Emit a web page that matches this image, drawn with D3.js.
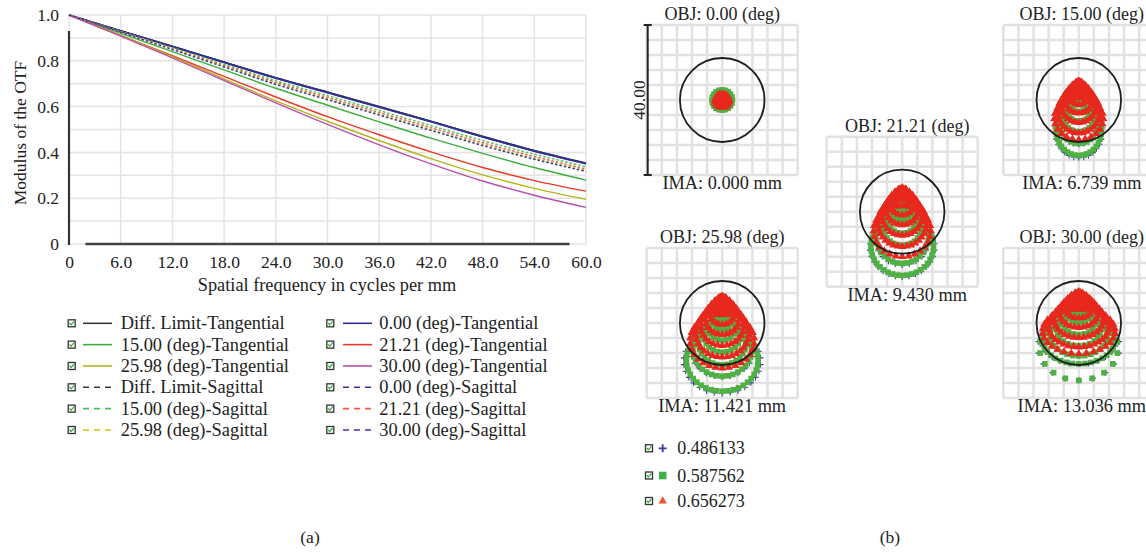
<!DOCTYPE html>
<html>
<head>
<meta charset="utf-8">
<script src="https://cdn.jsdelivr.net/npm/d3@7"></script>
<style>
html, body { margin: 0; padding: 0; background: #fff; }
svg { display: block; font-family: "Liberation Serif", "DejaVu Serif", serif; }
</style>
</head>
<body>
<svg id="chart" width="1146" height="552"></svg>
<script>
// ---- MTF data ----
const freqs = [0, 6, 12, 18, 24, 30, 36, 42, 48, 54, 60];
const xTicks = [0, 6, 12, 18, 24, 30, 36, 42, 48, 54, 60];
const yTicks = [0, 0.2, 0.4, 0.6, 0.8, 1.0];
const yGrid = [0, 0.1, 0.2, 0.3, 0.4, 0.5, 0.6, 0.7, 0.8, 0.9, 1.0];

const diffT  = [1, 0.931, 0.863, 0.794, 0.726, 0.663, 0.600, 0.536, 0.470, 0.408, 0.353];
const diffS  = [1, 0.931, 0.863, 0.794, 0.726, 0.663, 0.600, 0.536, 0.470, 0.408, 0.353];
const f00T   = [1, 0.930, 0.862, 0.793, 0.724, 0.661, 0.598, 0.534, 0.468, 0.406, 0.351];
const f00S   = [1, 0.930, 0.862, 0.793, 0.724, 0.661, 0.598, 0.534, 0.468, 0.406, 0.351];
const f15T   = [1, 0.920, 0.840, 0.760, 0.680, 0.606, 0.533, 0.462, 0.396, 0.334, 0.279];
const f15S   = [1, 0.928, 0.857, 0.785, 0.713, 0.648, 0.583, 0.517, 0.452, 0.392, 0.338];
const f21T   = [1, 0.911, 0.822, 0.732, 0.642, 0.556, 0.477, 0.402, 0.334, 0.277, 0.231];
const f21S   = [1, 0.927, 0.854, 0.780, 0.706, 0.640, 0.574, 0.508, 0.442, 0.382, 0.328];
const f26T   = [1, 0.910, 0.818, 0.721, 0.625, 0.536, 0.452, 0.373, 0.302, 0.243, 0.195];
const f26S   = [1, 0.926, 0.851, 0.776, 0.700, 0.633, 0.567, 0.500, 0.434, 0.374, 0.321];
const f30T   = [1, 0.908, 0.813, 0.714, 0.616, 0.522, 0.433, 0.350, 0.275, 0.213, 0.160];
const f30S   = [1, 0.925, 0.849, 0.773, 0.697, 0.630, 0.563, 0.496, 0.430, 0.370, 0.317];

const legendNames = [
  'Diff. Limit-Tangential', '15.00 (deg)-Tangential', '25.98 (deg)-Tangential',
  'Diff. Limit-Sagittal', '15.00 (deg)-Sagittal', '25.98 (deg)-Sagittal',
  '0.00 (deg)-Tangential', '21.21 (deg)-Tangential', '30.00 (deg)-Tangential',
  '0.00 (deg)-Sagittal', '21.21 (deg)-Sagittal', '30.00 (deg)-Sagittal'
];
const legendValues = [diffT, f15T, f26T, diffS, f15S, f26S, f00T, f21T, f30T, f00S, f21S, f30S];
const legendColors = ['#3a3a3a', '#3cae3c', '#b4b51e', '#3a3a3a', '#4cbf5a', '#c2c21a',
                      '#2c2c8c', '#ea3a26', '#b84fae', '#3434a8', '#ee5a42', '#3a36a8'];
const legendDashed = [false, false, false, true, true, true, false, false, false, true, true, true];

// ---- spot diagram data ----
const fieldLabels = ['0.00', '15.00', '21.21', '25.98', '30.00'];
const imaLabels = ['0.000', '6.739', '9.430', '11.421', '13.036'];
const waveLabels = ['0.486133', '0.587562', '0.656273'];
const scaleLabel = '40.00';
// rings per field: [centerY, radiusX, radiusY, points] in micrometres
const blueRings = [
  [[0, 1.2, 1.2, 6], [0, 2.2, 2.2, 12]],
  [[-6, 5.4, 5.8, 26], [-8.2, 6.3, 7.2, 30]],
  [[-6.6, 7.3, 7.6, 24], [-9.4, 8.6, 8, 30]],
  [[-7, 8.3, 7.4, 24], [-10.2, 10.2, 8.6, 30]],
  [[-4.4, 10, 6.6, 24], [-6.5, 10.8, 8.8, 18]]
];
const greenRings = [
  [[0, 0, 0, 1], [0, 0.8, 0.8, 6], [0, 1.6, 1.6, 12], [0, 2.4, 2.4, 18], [0, 2.7, 2.7, 20]],
  [[1.5, 0.6, 0.6, 6], [0.4, 1.5, 1.4, 10], [-0.9, 2.4, 2.3, 14], [-2.4, 3.3, 3.3, 20],
   [-4.1, 4.2, 4.4, 26], [-6, 5.1, 5.6, 30], [-8, 6, 6.8, 36]],
  [[3, 0.8, 0.8, 6], [1.6, 1.8, 1.8, 12], [0, 2.9, 2.9, 16], [-1.8, 4, 4, 22],
   [-3.8, 5.2, 5.2, 28], [-6.4, 7, 7.4, 34], [-9.2, 8.3, 7.8, 40]],
  [[2.2, 1.2, 1.2, 6], [0.6, 2.3, 2.2, 12], [-1.2, 3.6, 3.4, 18], [-3.2, 4.9, 4.6, 24],
   [-5.2, 6.3, 6, 30], [-7, 7.8, 7.2, 34], [-10, 9.5, 8.2, 40]],
  [[4, 1.4, 1.2, 6], [2.2, 2.8, 2.2, 12], [0.2, 4.3, 3.3, 18], [-1.8, 5.8, 4.3, 24],
   [-3.3, 7.6, 5.5, 30], [-4.5, 9.6, 6.4, 36], [-6.5, 10.4, 8.8, 18]]
];
const redRings = [
  [[0.4, 0, 0, 1], [0.4, 0.6, 0.6, 6], [0.1, 1.2, 1.2, 12], [-0.2, 1.9, 1.8, 18]],
  [[4.6, 0.4, 0.4, 6], [3.8, 1.2, 1.1, 10], [2.8, 2, 1.9, 14], [1.6, 2.9, 2.8, 18],
   [0.2, 3.8, 3.7, 24], [-1.4, 4.7, 4.6, 28], [-3.2, 5.6, 5.6, 32], [-5, 6.5, 5.6, 24]],
  [[5.8, 0.5, 0.5, 6], [4.9, 1.4, 1.3, 10], [3.8, 2.4, 2.3, 14], [2.4, 3.4, 3.3, 20],
   [0.8, 4.4, 4.3, 26], [-1, 5.4, 5.3, 30], [-3, 6.5, 6.3, 34], [-5.2, 7.6, 6.8, 28]],
  [[6.6, 0.5, 0.5, 6], [5.7, 1.4, 1.3, 10], [4.5, 2.4, 2.3, 14], [3, 3.5, 3.4, 20],
   [1.3, 4.6, 4.4, 26], [-0.6, 5.8, 5.4, 30], [-2.7, 7.1, 6.4, 34], [-4.8, 8.5, 7.2, 30]],
  [[7.8, 0.5, 0.5, 6], [6.9, 1.5, 1.3, 10], [5.8, 2.7, 2.2, 16], [4.4, 3.9, 3.1, 22],
   [2.8, 5.2, 4, 28], [1, 6.6, 4.9, 32], [-0.8, 8.1, 5.6, 36], [-2.2, 9.6, 6, 30]]
];
const airyRadius = 11.2;

const svg = d3.select('#chart');

// ---------- (a) MTF plot ----------
const x = d3.scaleLinear().domain([0, 60]).range([69, 586]);
const y = d3.scaleLinear().domain([0, 1]).range([244, 15]);

const grid = svg.append('g').attr('stroke', '#e4e4e4').attr('stroke-width', 1.5);
grid.selectAll('.vg').data(xTicks).enter().append('line')
  .attr('x1', d => x(d)).attr('x2', d => x(d))
  .attr('y1', y(0)).attr('y2', y(1));
grid.selectAll('.hg').data(yGrid).enter().append('line')
  .attr('x1', x(0)).attr('x2', x(60))
  .attr('y1', d => y(d)).attr('y2', d => y(d));

// axis lines (dark parts like the original)
svg.append('line').attr('x1', x(0)).attr('x2', x(0)).attr('y1', y(0.93)).attr('y2', y(0) + 1)
  .attr('stroke', '#333').attr('stroke-width', 2.2);
svg.append('line').attr('x1', x(1.9)).attr('x2', x(58.1)).attr('y1', y(0)).attr('y2', y(0))
  .attr('stroke', '#444').attr('stroke-width', 2.5);

const xAxis = svg.append('g')
  .attr('transform', `translate(0,${y(0)})`)
  .call(d3.axisBottom(x).tickValues(xTicks).tickSize(0).tickPadding(12)
    .tickFormat(d => d === 0 ? '0' : d.toFixed(1)));
const yAxis = svg.append('g')
  .attr('transform', `translate(${x(0)},0)`)
  .call(d3.axisLeft(y).tickValues(yTicks).tickSize(0).tickPadding(10)
    .tickFormat(d => d === 0 ? '0' : d.toFixed(1)));
[xAxis, yAxis].forEach(a => {
  a.select('.domain').remove();
  a.selectAll('text').style('font-family', '"Liberation Serif", serif')
    .style('font-size', '17.5px').attr('fill', '#222');
});

svg.append('text').attr('x', 327).attr('y', 291).attr('text-anchor', 'middle')
  .style('font-size', '18.3px').attr('fill', '#222')
  .text('Spatial frequency in cycles per mm');
svg.append('text').attr('transform', 'translate(26,133) rotate(-90)').attr('text-anchor', 'middle')
  .style('font-size', '17.5px').attr('fill', '#222')
  .text('Modulus of the OTF');

// curves
const line = d3.line()
  .x((d, i) => x(freqs[i]))
  .y(d => y(d))
  .curve(d3.curveMonotoneX);
const drawOrder = [0, 3, 6, 9, 1, 4, 7, 10, 2, 5, 8, 11];
svg.append('g').selectAll('path')
  .data(drawOrder)
  .enter()
  .append('path')
  .attr('d', k => line(legendValues[k]))
  .attr('fill', 'none')
  .attr('stroke', k => legendColors[k])
  .attr('stroke-width', k => legendDashed[k] ? 1.4 : (k === 0 || k === 6 ? 1.8 : 1.4))
  .attr('stroke-dasharray', k => legendDashed[k] ? '2.5,2' : null);

// legend
function checkbox(parent, cx, cy) {
  parent.append('rect').attr('x', cx - 3.5).attr('y', cy - 3.5).attr('width', 7).attr('height', 7)
    .attr('fill', '#fff').attr('stroke', '#333').attr('stroke-width', 1.3);
  parent.append('path').attr('d', `M${cx - 2.2},${cy - 0.3}L${cx - 0.6},${cy + 1.5}L${cx + 2.4},${cy - 2}`)
    .attr('fill', 'none').attr('stroke', '#3cae3c').attr('stroke-width', 1.3);
}
const leg = svg.append('g');
legendNames.forEach((name, i) => {
  const col = Math.floor(i / 6), row = i % 6;
  const cy = 323.3 + row * 21.34;
  const bx = col === 0 ? 71.7 : 330.3;
  const lx0 = col === 0 ? 83 : 343;
  const tx = col === 0 ? 120.7 : 379.3;
  checkbox(leg, bx, cy);
  leg.append('line').attr('x1', lx0).attr('x2', lx0 + 29).attr('y1', cy).attr('y2', cy)
    .attr('stroke', legendColors[i]).attr('stroke-width', 1.6)
    .attr('stroke-dasharray', legendDashed[i] ? '6,5' : null);
  leg.append('text').attr('x', tx).attr('y', cy + 6).style('font-size', '18.4px').attr('fill', '#222')
    .text(name);
});

svg.append('text').attr('x', 310).attr('y', 543).attr('text-anchor', 'middle')
  .style('font-size', '17.5px').attr('fill', '#222').text('(a)');
svg.append('text').attr('x', 890).attr('y', 543).attr('text-anchor', 'middle')
  .style('font-size', '17.5px').attr('fill', '#222').text('(b)');

// ---------- (b) spot diagrams ----------
const panels = [
  { left: 646.7, top: 25, dx: 0 },
  { left: 1003.3, top: 25, dx: 3 },
  { left: 826.7, top: 136.7, dx: 5 },
  { left: 646.7, top: 248, dx: 0 },
  { left: 1003.3, top: 248, dx: 3 }
];
const boxW = 151, boxH = 150;
const redColor = '#e8281e', greenColor = '#4fb043', blueColor = '#3a3aa6';
const tri = d3.symbol().type(d3.symbolTriangle).size(30);
const sq = d3.symbol().type(d3.symbolSquare).size(32);

function ringPoints(rings) {
  const pts = [];
  rings.forEach(([cy, rx, ry, n]) => {
    for (let i = 0; i < n; i++) {
      const a = Math.PI / 2 + 2 * Math.PI * i / n;
      pts.push([rx * Math.cos(a), cy + ry * Math.sin(a)]);
    }
  });
  return pts;
}

panels.forEach((p, k) => {
  const sx = d3.scaleLinear().domain([-20, 20]).range([p.left, p.left + boxW]);
  const sy = d3.scaleLinear().domain([20, -20]).range([p.top, p.top + boxH]);
  const pg = svg.append('g');
  const gl = pg.append('g').attr('stroke', '#e2e2e2').attr('stroke-width', 2.5);
  const gridVals = d3.range(-20, 20.1, 4);
  gl.selectAll('.v').data(gridVals).enter().append('line')
    .attr('x1', d => sx(d)).attr('x2', d => sx(d)).attr('y1', sy(20)).attr('y2', sy(-20));
  gl.selectAll('.h').data(gridVals).enter().append('line')
    .attr('y1', d => sy(d)).attr('y2', d => sy(d)).attr('x1', sx(-20)).attr('x2', sx(20));

  pg.selectAll('.bl').data(ringPoints(blueRings[k])).enter().append('path')
    .attr('d', 'M-3,0H3M0,-3V3')
    .attr('transform', d => `translate(${sx(d[0])},${sy(d[1])})`)
    .attr('stroke', blueColor).attr('stroke-width', 1.1).attr('fill', 'none');
  pg.selectAll('.gr').data(ringPoints(greenRings[k])).enter().append('path')
    .attr('d', sq)
    .attr('transform', d => `translate(${sx(d[0])},${sy(d[1])})`)
    .attr('fill', greenColor);
  pg.selectAll('.rd').data(ringPoints(redRings[k])).enter().append('path')
    .attr('d', tri)
    .attr('transform', d => `translate(${sx(d[0])},${sy(d[1])})`)
    .attr('fill', redColor);

  pg.append('ellipse').attr('cx', sx(0)).attr('cy', sy(0))
    .attr('rx', sx(airyRadius) - sx(0)).attr('ry', sy(-airyRadius) - sy(0))
    .attr('fill', 'none').attr('stroke', '#1e1e1e').attr('stroke-width', 1.8);

  pg.append('text').attr('x', sx(0) + p.dx).attr('y', p.top - 5).attr('text-anchor', 'middle')
    .style('font-size', '18px').attr('fill', '#222')
    .text(`OBJ: ${fieldLabels[k]} (deg)`);
  pg.append('text').attr('x', sx(0) + p.dx).attr('y', p.top + boxH + 14).attr('text-anchor', 'middle')
    .style('font-size', '18.3px').attr('fill', '#222')
    .text(`IMA: ${imaLabels[k]} mm`);

  if (k === 0) {
    const bx = sx(-20) + 1;
    pg.append('path')
      .attr('d', `M${bx},${sy(20)}V${sy(-20)}M${bx - 4},${sy(20)}H${bx + 4}M${bx - 4},${sy(-20)}H${bx + 4}`)
      .attr('stroke', '#222').attr('stroke-width', 2).attr('fill', 'none');
    pg.append('text').attr('transform', `translate(${bx - 3},${sy(0)}) rotate(-90)`)
      .attr('text-anchor', 'middle').style('font-size', '17.5px').attr('fill', '#222')
      .text(scaleLabel);
  }
});

// spot legend
const sleg = svg.append('g');
waveLabels.forEach((w, i) => {
  const cy = [448.3, 475.5, 501][i];
  checkbox(sleg, 649, cy);
  const mg = sleg.append('g').attr('transform', `translate(662.7,${cy})`);
  if (i === 0) {
    mg.append('path').attr('d', 'M-4,0H4M0,-4V4').attr('stroke', blueColor).attr('stroke-width', 1.8);
  } else if (i === 1) {
    mg.append('rect').attr('x', -3.8).attr('y', -3.8).attr('width', 7.6).attr('height', 7.6).attr('fill', '#3cb04a');
  } else {
    mg.append('path').attr('d', d3.symbol().type(d3.symbolTriangle).size(30)).attr('fill', '#f0502e');
  }
  sleg.append('text').attr('x', 677.3).attr('y', cy + 6).style('font-size', '18px').attr('fill', '#222').text(w);
});
</script>
</body>
</html>
